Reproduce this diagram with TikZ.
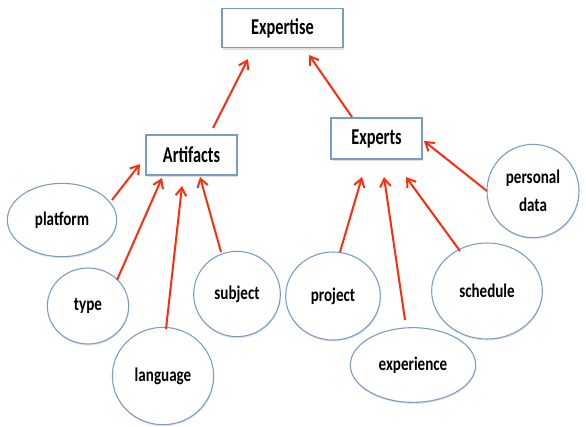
\documentclass[tikz,border=0pt]{standalone}
\usepackage{fontspec}
\setmainfont{Carlito}
\newfontfamily\boxfont[FakeStretch=0.72]{Carlito}
\newfontfamily\ellfont[FakeStretch=0.78]{Carlito}
\usetikzlibrary{shapes.geometric,arrows.meta,shadows}
\definecolor{boxblue}{RGB}{120,155,200}
\definecolor{arrred}{RGB}{250,45,15}
\tikzset{
  boxnode/.style={font=\boxfont\bfseries\fontsize{17}{20}\selectfont, text=black,
    draw=boxblue, line width=0.8pt, fill=white, rectangle, inner sep=0pt,
    drop shadow={opacity=0.25, shadow xshift=0.6pt, shadow yshift=-1.5pt}},
  ell/.style={font=\ellfont\bfseries\fontsize{14.5}{21}\selectfont, text=black,
    draw=boxblue, line width=0.8pt, fill=white, ellipse, inner sep=0pt,
    drop shadow={opacity=0.2, shadow xshift=0.4pt, shadow yshift=-1.2pt}},
  arr/.style={draw=arrred, line width=1.5pt, -{Straight Barb[length=6pt,width=8pt,line width=1.5pt]}},
}
\begin{document}
\begin{tikzpicture}[x=0.75pt,y=-0.75pt]
\useasboundingbox (0,0) rectangle (586,426);
% boxes
\node[boxnode, minimum width=90.75pt, minimum height=29.25pt] (expertise) at (282.5,28) {Expertise};
\node[boxnode, minimum width=68.25pt, minimum height=30pt] (artifacts) at (191.5,155) {Artifacts};
\node[boxnode, minimum width=68.25pt, minimum height=30.75pt] (experts) at (376.5,138.5) {Experts};
% ellipses
\node[ell, minimum width=82pt, minimum height=55pt] (platform) at (62,220) {platform};
\node[ell, minimum width=61pt, minimum height=57pt] (type) at (88,306) {type};
\node[ell, minimum width=76pt, minimum height=73pt] (language) at (163,376) {language};
\node[ell, minimum width=65pt, minimum height=64pt] (subject) at (237,294) {subject};
\node[ell, minimum width=71pt, minimum height=66pt] (project) at (333,296) {project};
\node[ell, minimum width=94pt, minimum height=56pt] (experience) at (413,365) {experience};
\node[ell, minimum width=83pt, minimum height=72pt] (schedule) at (487,291) {schedule};
\node[ell, minimum width=69pt, minimum height=70pt, align=center] (personal) at (533,191) {personal\\data};
% connector end points
\coordinate (art-up) at (213,128);
\coordinate (exp-in1) at (248,59);
\coordinate (exps-up) at (352,117);
\coordinate (exp-in2) at (309,55);
\coordinate (pl-t) at (112,200);
\coordinate (art-in1) at (140,164);
\coordinate (ty-t) at (117,280);
\coordinate (art-in2) at (162,178);
\coordinate (la-t) at (166,329);
\coordinate (art-in3) at (182,186);
\coordinate (su-t) at (221,252);
\coordinate (art-in4) at (200,177);
\coordinate (pd-t) at (487,191);
\coordinate (exs-in1) at (424,141);
\coordinate (pr-t) at (340,252);
\coordinate (exs-in2) at (362,177);
\coordinate (ex-t) at (405,320);
\coordinate (exs-in3) at (384,177);
\coordinate (sc-t) at (460,251);
\coordinate (exs-in4) at (406,177);
% connectors
\draw[arr] (art-up) -- (exp-in1);
\draw[arr] (exps-up) -- (exp-in2);
\draw[arr] (pl-t) -- (art-in1);
\draw[arr] (ty-t) -- (art-in2);
\draw[arr] (la-t) -- (art-in3);
\draw[arr] (su-t) -- (art-in4);
\draw[arr] (pd-t) -- (exs-in1);
\draw[arr] (pr-t) -- (exs-in2);
\draw[arr] (ex-t) -- (exs-in3);
\draw[arr] (sc-t) -- (exs-in4);
\end{tikzpicture}
\end{document}
